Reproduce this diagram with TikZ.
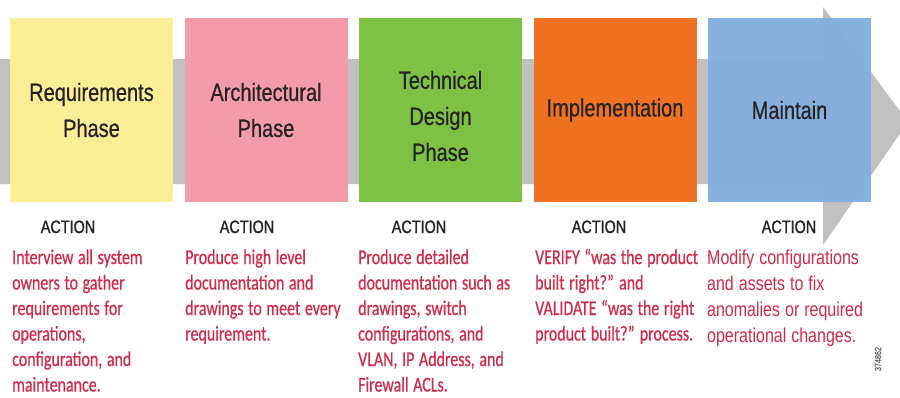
\documentclass[tikz,border=0pt]{standalone}
\usepackage{fontspec}
\usepackage{tikz}
\newfontfamily\headfont[FakeStretch=0.8, FakeBold=0.6]{Liberation Sans}
\newfontfamily\actfont[FakeStretch=0.8, FakeBold=1.2]{Liberation Sans}
\newfontfamily\notefont[FakeStretch=0.76, FakeBold=0.5]{Carlito}
\newfontfamily\plainnotefont[FakeStretch=0.8]{Liberation Sans}
\definecolor{reqyellow}{HTML}{FBEE96}
\definecolor{archpink}{HTML}{F49BAA}
\definecolor{techgreen}{HTML}{7DC243}
\definecolor{implorange}{HTML}{F17123}
\definecolor{maintblue}{HTML}{85AFDE}
\definecolor{flowgrey}{HTML}{C0C0C0}
\definecolor{inkdark}{HTML}{262324}
\definecolor{notered}{HTML}{D12A4A}
\tikzset{
	phasebox/.style={minimum width=163pt, minimum height=184pt, inner sep=0pt, align=center, text=inkdark, font=\headfont\fontsize{25}{36}\selectfont},
	phasetext/.style={align=center, inner sep=0pt, text=inkdark, font=\headfont\fontsize{25}{36}\selectfont},
	actionlbl/.style={anchor=base, inner sep=0pt, text=inkdark, font=\actfont\fontsize{18}{22}\selectfont},
	notetext/.style={anchor=base west, inner sep=0pt, text width=200pt, align=left, text=notered, font=\notefont\fontsize{21}{25.5}\selectfont, execute at begin node={\spaceskip=0.22em\xspaceskip=0.25em\relax}},
}
\begin{document}
\begin{tikzpicture}[x=1pt, y=-1pt]
				\clip (0, 0) rectangle (900, 397);
				\fill[white] (0, 0) rectangle (900, 397);
				
				\fill[flowgrey] (0, 59) -- (823, 59) -- (823, 7) -- (908, 122) -- (823, 245) -- (823, 184) -- (0, 184) -- cycle;
				
				\node[phasebox, fill=reqyellow] (req) at (91.5, 110) {Requirements\\Phase};
				\node[phasebox, fill=archpink] (arch) at (266, 110) {Architectural\\Phase};
				\node[phasebox, fill=techgreen] (tech) at (440.5, 110) {};
				\node[phasetext] (techname) at ([yshift=-6pt]tech.center) {Technical\\Design\\Phase};
				\node[phasebox, fill=implorange] (impl) at (615, 110) {Implementation};
				\node[phasebox, fill=maintblue, fill opacity=0.97, text opacity=1] (maint) at (789.5, 110) {Maintain};
				
				\node[actionlbl] (reqact) at (68, 233) {ACTION};
				\node[actionlbl] (archact) at (247, 233) {ACTION};
				\node[actionlbl] (techact) at (419, 233) {ACTION};
				\node[actionlbl] (implact) at (599, 233) {ACTION};
				\node[actionlbl] (maintact) at (789, 233) {ACTION};
				
				\node[notetext] (reqnote) at (12, 264) {Interview all system\\owners to gather\\requirements for\\operations,\\configuration, and\\maintenance.};
				\node[notetext] (archnote) at (185, 264) {Produce high level\\documentation and\\drawings to meet every\\requirement.};
				\node[notetext] (technote) at (358, 264) {Produce detailed\\documentation such as\\drawings, switch\\configurations, and\\VLAN, IP Address, and\\Firewall ACLs.};
				\node[notetext] (implnote) at (535, 264) {VERIFY “was the product\\built right?” and\\VALIDATE “was the right\\product built?” process.};
				\node[notetext, font=\plainnotefont\fontsize{20}{26.3}\selectfont, execute at begin node={\spaceskip=0.25em\relax}] (maintnote) at (707, 264) {Modify configurations\\and assets to fix\\anomalies or required\\operational changes.};
				
				\node[rotate=90, text=inkdark!70, font=\headfont\fontsize{9}{9}\selectfont] (artno) at (878, 359) {374862};
			\end{tikzpicture}
\end{document}
